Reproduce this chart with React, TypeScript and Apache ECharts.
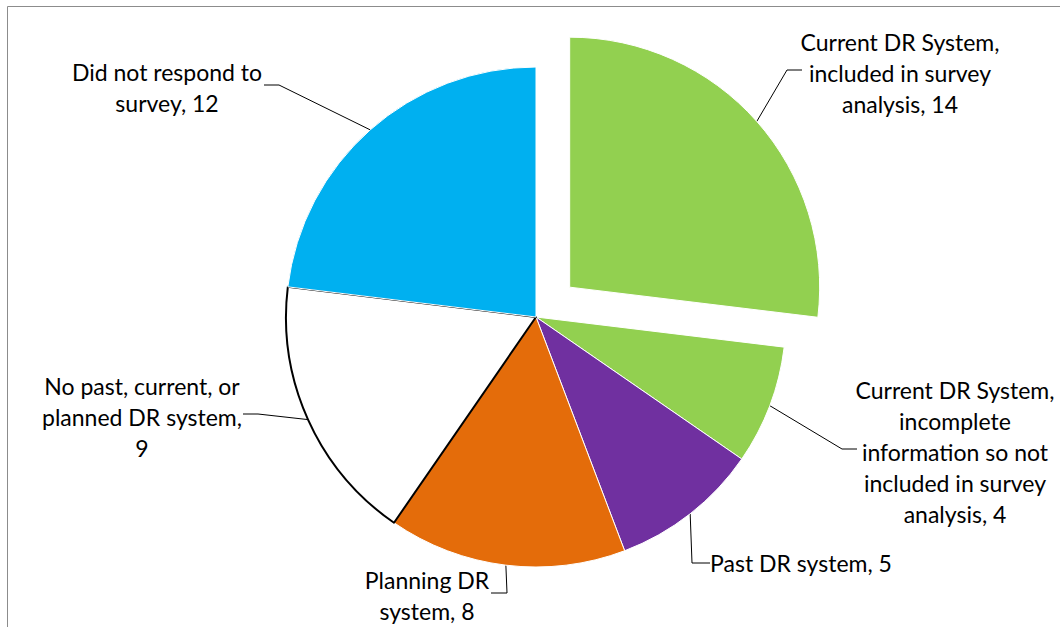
import React, { useEffect, useRef } from "react";
import * as echarts from "echarts";

// ---- data ----
const categories = [
  "Current DR System, included in survey analysis",
  "Current DR System, incomplete information so not included in survey analysis",
  "Past DR system",
  "Planning DR system",
  "No past, current, or planned DR system",
  "Did not respond to survey",
];
const values = [14, 4, 5, 8, 9, 12];
// wrapped label names (line breaks as in the reference)
const wrappedNames = [
  "Current DR System,\nincluded in survey\nanalysis",
  "Current DR System,\nincomplete\ninformation so not\nincluded in survey\nanalysis",
  "Past DR system",
  "Planning DR\nsystem",
  "No past, current, or\nplanned DR system",
  "Did not respond to\nsurvey",
];
const valueSeparators = [", ", ", ", ", ", ", ", ",\n", ", "];
const colors = ["#92D050", "#92D050", "#7030A0", "#E46C0A", "#FFFFFF", "#00B0F0"];
const exploded = [true, false, false, false, false, false];

// ---- layout ----
const CX = 536;
const CY = 317;
const R = 250;
const OFFSET = 45;
const labelPos = [
  { x: 900, y: 73, elbow: [787, 70], end: [802, 70] },
  { x: 955, y: 452, elbow: [842, 449], end: [857, 449] },
  { x: 801, y: 563, elbow: [692, 563], end: [710, 563] },
  { x: 427, y: 595, elbow: [507, 593], end: [491, 593] },
  { x: 142, y: 417, elbow: [258, 414], end: [243, 414] },
  { x: 167, y: 87, elbow: [279, 85], end: [264, 85] },
];

const total = values.reduce((a, b) => a + b, 0);
const midAngle = (i: number) => {
  const before = values.slice(0, i).reduce((a, b) => a + b, 0);
  return ((before + values[i] / 2) / total) * 2 * Math.PI;
};

export default function App() {
  const ref = useRef<HTMLDivElement>(null);
  useEffect(() => {
    if (!ref.current) return;
    const chart = echarts.init(ref.current, undefined, { renderer: "svg" });

    const hidden = {
      itemStyle: { color: "rgba(0,0,0,0)", borderWidth: 0 },
      label: { show: false },
      labelLine: { show: false },
    };
    const makeData = (explodedPass: boolean) =>
      categories.map((name, i) => {
        const base: any = {
          name,
          value: values[i],
          itemStyle:
            colors[i] === "#FFFFFF"
              ? { color: colors[i], borderColor: "#000000", borderWidth: 2 }
              : { color: colors[i], borderColor: "#FFFFFF", borderWidth: 1 },
        };
        if (exploded[i] !== explodedPass) return { ...base, ...hidden };
        return base;
      });

    const labelCommon = {
      show: true,
      position: "outside",
      formatter: (p: any) =>
        wrappedNames[p.dataIndex] + valueSeparators[p.dataIndex] + p.value,
      fontFamily: "Lato",
      fontSize: 23,
      lineHeight: 31,
      color: "#000000",
      align: "center",
    };
    const labelLineCommon = {
      show: true,
      length: 10,
      length2: 10,
      lineStyle: { color: "#000000", width: 1 },
    };
    const labelLayout = (p: any) => {
      const i = p.dataIndex;
      const mid = midAngle(i);
      const off = exploded[i] ? OFFSET : 0;
      const sx = CX + (R + off) * Math.sin(mid);
      const sy = CY - (R + off) * Math.cos(mid);
      const L = labelPos[i];
      return {
        x: L.x,
        y: L.y,
        align: "center",
        verticalAlign: "middle",
        labelLinePoints: [[sx, sy], L.elbow, L.end],
      };
    };

    const ex = exploded.indexOf(true);
    const exMid = midAngle(ex);
    const exCenter = [CX + OFFSET * Math.sin(exMid), CY - OFFSET * Math.cos(exMid)];

    const pieBase = {
      type: "pie",
      radius: R,
      startAngle: 90,
      clockwise: true,
      avoidLabelOverlap: false,
      silent: true,
      emphasis: { disabled: true },
      label: labelCommon,
      labelLine: labelLineCommon,
      labelLayout,
    };

    chart.setOption({
      animation: false,
      backgroundColor: "#FFFFFF",
      graphic: [
        {
          type: "rect",
          silent: true,
          z: -10,
          shape: { x: 7.5, y: 6.5, width: 1200, height: 800 },
          style: { fill: "none", stroke: "#8C8C8C", lineWidth: 1 },
        },
      ],
      series: [
        { ...pieBase, name: "main", center: [CX, CY], data: makeData(false) },
        { ...pieBase, name: "exploded", center: exCenter, data: makeData(true) },
      ],
    });
    return () => chart.dispose();
  }, []);
  return (
    <div
      ref={ref}
      style={{ position: "fixed", left: 0, top: 0, width: 1060, height: 627, background: "#fff" }}
    />
  );
}
